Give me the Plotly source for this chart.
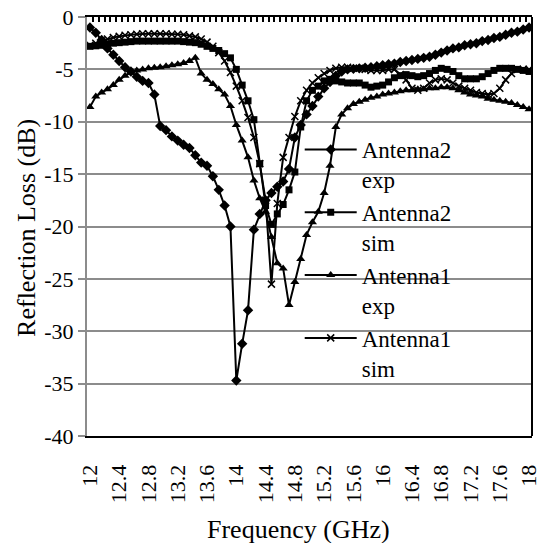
import plotly.graph_objects as go

# Frequency categories (GHz): 12.00 ... 18.00 in 0.08 steps (76 points)
freq = [round(12 + 0.08 * i, 2) for i in range(76)]

ant2_exp = [
    -1.0, -1.5, -2.2, -3.0, -3.6, -4.2, -4.8, -5.2, -5.7, -6.1,
    -6.3, -7.4, -10.4, -10.8, -11.4, -11.8, -12.2, -12.5, -13.2, -13.9,
    -14.2, -15.2, -16.5, -18.0, -20.0, -34.7, -31.2, -28.0, -20.3, -18.8,
    -17.5, -16.8, -16.2, -15.7, -14.5, -11.5, -10.3, -9.3, -8.5, -7.6,
    -6.8, -6.2, -5.6, -5.2, -5.0, -4.95, -4.9, -4.85, -4.8, -4.7,
    -4.6, -4.5, -4.45, -4.3, -4.2, -4.1, -4.0, -3.9, -3.8, -3.6,
    -3.4, -3.2, -3.0, -2.9, -2.7, -2.6, -2.5, -2.3, -2.2, -2.0,
    -1.9, -1.7, -1.5, -1.4, -1.2, -1.0,
]

ant2_sim = [
    -2.8, -2.75, -2.7, -2.6, -2.5, -2.45, -2.4, -2.35, -2.3, -2.3,
    -2.3, -2.3, -2.3, -2.3, -2.3, -2.3, -2.35, -2.4, -2.45, -2.6,
    -2.8, -3.0, -3.2, -3.5, -3.9, -5.0, -6.5, -8.0, -9.8, -14.0,
    -18.0, -19.8, -18.8, -17.9, -16.5, -14.8, -10.5, -8.0, -7.0, -6.6,
    -6.1, -5.95, -6.1, -6.2, -6.3, -6.3, -6.3, -6.5, -6.7, -6.6,
    -6.5, -6.2, -5.8, -5.6, -5.5, -5.6, -5.7, -5.6, -5.4, -5.1,
    -4.9, -5.0, -5.2, -5.6, -5.9, -5.9, -5.9, -5.7, -5.4, -5.1,
    -4.9, -4.9, -4.9, -5.0, -5.1, -5.2,
]

ant1_exp = [
    -8.6, -7.6, -7.2, -6.9, -6.5, -6.0, -5.6, -5.3, -5.1, -5.0,
    -4.9, -4.85, -4.8, -4.7, -4.6, -4.5, -4.4, -4.2, -3.9, -5.4,
    -6.0, -6.4, -6.9, -7.4, -8.5, -10.3, -11.8, -13.4, -15.6, -17.3,
    -18.6, -21.0, -23.5, -24.0, -27.5, -25.3, -23.1, -20.8, -19.6, -18.6,
    -16.8, -14.2, -10.5, -9.3, -8.7, -8.3, -8.1, -7.9, -7.7, -7.6,
    -7.4, -7.3, -7.2, -7.1, -7.0, -7.0, -6.9, -6.9, -6.8, -6.8,
    -6.7, -6.7, -6.8, -7.0, -7.2, -7.4, -7.5, -7.6, -7.8, -7.9,
    -8.0, -8.1, -8.2, -8.4, -8.6, -8.8,
]

ant1_sim = [
    -2.7, -2.5, -2.3, -2.1, -1.95, -1.85, -1.75, -1.7, -1.65, -1.6,
    -1.6, -1.6, -1.6, -1.6, -1.65, -1.65, -1.7, -1.8, -1.9, -2.1,
    -2.4, -2.8, -3.4, -4.2, -5.3, -6.6, -8.0, -9.6, -11.5, -14.0,
    -17.5, -25.5, -17.8, -13.4, -11.5, -9.5, -8.0, -7.0, -6.3, -5.8,
    -5.4, -5.1, -4.9, -4.8, -4.8, -4.9, -4.9, -5.0, -5.1, -5.1,
    -5.1, -5.0, -5.0, -5.5, -6.0, -6.8, -7.0, -6.8, -6.3, -6.0,
    -5.9, -6.0, -6.3, -6.6, -6.8, -7.0, -7.2, -7.3, -7.4, -7.3,
    -6.8, -6.0, -5.4, -5.0, -5.0, -5.0,
]

x_tick_vals = [12, 12.4, 12.8, 13.2, 13.6, 14, 14.4, 14.8, 15.2, 15.6,
               16, 16.4, 16.8, 17.2, 17.6, 18]
x_tick_text = ["12", "12.4", "12.8", "13.2", "13.6", "14", "14.4", "14.8",
               "15.2", "15.6", "16", "16.4", "16.8", "17.2", "17.6", "18"]
y_tick_vals = [0, -5, -10, -15, -20, -25, -30, -35, -40]
y_tick_text = ["0", "-5", "-10", "-15", "-20", "-25", "-30", "-35", "-40"]

series = [
    ("Antenna2<br>exp", ant2_exp, dict(symbol="diamond", size=8, color="black"), "x"),
    ("Antenna2<br>sim", ant2_sim, dict(symbol="square", size=7, color="black"), "x"),
    ("Antenna1<br>exp", ant1_exp, dict(symbol="triangle-up", size=8, color="black"), "x2"),
    ("Antenna1<br>sim", ant1_sim, dict(symbol="x-thin", size=7, color="black",
                                        line=dict(color="black", width=1.5)), "x2"),
]

FONT = "Liberation Serif, serif"
step = 0.08
x_lo, x_hi = freq[0] - step / 2, freq[-1] + step / 2
top_ticks = [round(x_lo + step * k, 3) for k in range(len(freq) + 1)]

fig = go.Figure()
for name, vals, mk, xa in series:
    fig.add_trace(go.Scatter(x=freq, y=vals, mode="lines+markers", name=name,
                             xaxis=xa, yaxis="y",
                             line=dict(color="black", width=2), marker=mk))

tick_font = dict(family=FONT, size=22, color="black")

fig.update_layout(
    width=546, height=543,
    margin=dict(l=87, r=5, t=17, b=107),
    font=dict(family=FONT, size=22, color="black"),
    paper_bgcolor="white", plot_bgcolor="white",
    showlegend=True,
    legend=dict(x=0.478, y=0.735, xanchor="left", yanchor="top",
                bgcolor="rgba(0,0,0,0)", borderwidth=0,
                font=dict(family=FONT, size=23, color="black"),
                itemwidth=52, valign="top", tracegroupgap=0),
    xaxis=dict(range=[x_lo, x_hi], tickmode="array", tickvals=x_tick_vals,
               ticktext=x_tick_text, tickangle=-90, ticks="",
               ticklabelstandoff=18, ticklabeloverflow="allow",
               showgrid=False, zeroline=False,
               showline=True, linecolor="black", linewidth=2, mirror=True,
               tickfont=tick_font),
    xaxis2=dict(range=[x_lo, x_hi], overlaying="x", side="top", anchor="y",
                tickmode="array", tickvals=top_ticks, ticks="inside",
                ticklen=5, tickwidth=2, tickcolor="black",
                showticklabels=False, showgrid=False, zeroline=False,
                showline=False),
    yaxis=dict(range=[-40, 0], tickmode="array", tickvals=y_tick_vals,
               ticktext=y_tick_text, ticks="outside", ticklen=7,
               tickwidth=1.5, tickcolor="#8c8c8c",
               showgrid=True, gridcolor="#8c8c8c", gridwidth=1.5,
               zeroline=False, showline=True, linecolor="#8c8c8c",
               linewidth=2, tickfont=tick_font),
    shapes=[dict(type="line", xref="paper", yref="paper", x0=1, x1=1,
                 y0=0, y1=1, line=dict(color="black", width=2))],
    annotations=[
        dict(text="Frequency (GHz)", xref="paper", yref="paper",
             x=0.476, y=-0.2234, xanchor="center", yanchor="middle",
             showarrow=False, font=dict(family=FONT, size=26, color="black")),
        dict(text="Reflection Loss (dB)", xref="paper", yref="paper",
             x=-0.1345, y=0.497, xanchor="center", yanchor="middle",
             textangle=-90, showarrow=False,
             font=dict(family=FONT, size=26, color="black")),
    ],
)

fig.write_html("out.html")
